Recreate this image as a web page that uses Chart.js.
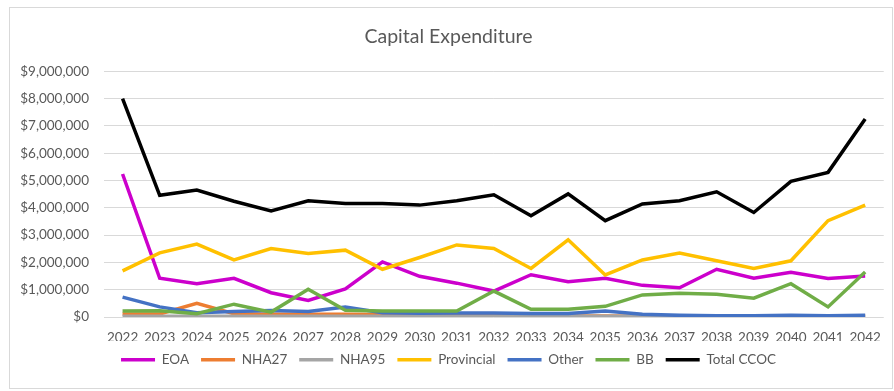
<!DOCTYPE html>
<html>
<head>
<meta charset="utf-8">
<script src="https://cdn.jsdelivr.net/npm/chart.js@4.4.1/dist/chart.umd.min.js"></script>
<style>
  html, body { margin: 0; padding: 0; background: #fff; }
  #wrap { position: relative; width: 894px; height: 391px; }
  #frame { position: absolute; left: 9px; top: 7px; width: 884px; height: 382px; border: 1px solid #d9d9d9; box-sizing: border-box; }
  #myChart { position: absolute; left: 0; top: 0; }
</style>
</head>
<body>
<div id="wrap">
  <div id="frame"></div>
  <canvas id="myChart" width="894" height="391"></canvas>
</div>
<script>
var years = ["2022", "2023", "2024", "2025", "2026", "2027", "2028", "2029", "2030", "2031",
  "2032", "2033", "2034", "2035", "2036", "2037", "2038", "2039", "2040", "2041", "2042"];

var eoa = [5240000, 1420000, 1220000, 1420000, 890000, 610000, 1030000, 2020000, 1490000, 1240000,
  950000, 1550000, 1290000, 1420000, 1160000, 1070000, 1750000, 1420000, 1640000, 1410000, 1500000];
var nha27 = [110000, 110000, 500000, 120000, 100000, 100000, 100000, 90000, 70000, 60000,
  50000, 40000, 40000, 40000, 30000, 30000, 30000, 30000, 30000, 30000, 30000];
var nha95 = [30000, 30000, 30000, 30000, 30000, 30000, 30000, 30000, 30000, 30000,
  30000, 30000, 30000, 30000, 30000, 30000, 30000, 30000, 30000, 30000, 30000];
var provincial = [1690000, 2350000, 2670000, 2090000, 2510000, 2330000, 2450000, 1750000, 2180000, 2640000,
  2510000, 1780000, 2830000, 1540000, 2090000, 2340000, 2060000, 1780000, 2060000, 3530000, 4100000];
var other = [730000, 370000, 160000, 200000, 240000, 200000, 370000, 160000, 140000, 150000,
  150000, 130000, 130000, 220000, 100000, 60000, 50000, 50000, 60000, 50000, 60000];
var bb = [220000, 230000, 120000, 470000, 180000, 1020000, 250000, 220000, 220000, 220000,
  950000, 280000, 280000, 390000, 810000, 870000, 830000, 690000, 1220000, 370000, 1650000];
var totalCcoc = [8000000, 4460000, 4650000, 4240000, 3890000, 4260000, 4160000, 4160000, 4100000, 4260000,
  4480000, 3710000, 4510000, 3530000, 4140000, 4260000, 4590000, 3830000, 4970000, 5300000, 7260000];

var seriesNames = ["EOA", "NHA27", "NHA95", "Provincial", "Other", "BB", "Total CCOC"];
var seriesData = [eoa, nha27, nha95, provincial, other, bb, totalCcoc];
var seriesColors = ["#CC00CC", "#ED7D31", "#A5A5A5", "#FFC000", "#4472C4", "#70AD47", "#000000"];

var textColor = "#595959";
var fontFamily = "Lato, 'Liberation Sans', sans-serif";

// later series sit on top, like the spreadsheet draws them
var datasets = seriesNames.map(function (name, i) {
  return {
    label: name,
    data: seriesData[i],
    borderColor: seriesColors[i],
    backgroundColor: seriesColors[i],
    borderWidth: 3.5,
    pointRadius: 0,
    tension: 0,
    fill: false,
    order: seriesNames.length - i
  };
});

function money(v) {
  return "$" + Number(v).toLocaleString("en-US");
}

var ctx = document.getElementById('myChart').getContext('2d');
var chart = new Chart(ctx, {
  type: 'line',
  data: { labels: years, datasets: datasets },
  options: {
    responsive: false,
    animation: false,
    layout: { padding: { left: 10, right: 7, top: 15, bottom: 14.5 } },
    plugins: {
      tooltip: { enabled: false },
      title: {
        display: true,
        text: "Capital Expenditure",
        color: textColor,
        font: { family: fontFamily, size: 19.5, weight: 'normal' },
        padding: { top: 10, bottom: 23 }
      },
      legend: {
        position: 'bottom',
        labels: {
          color: textColor,
          font: { family: fontFamily, size: 13.5 },
          usePointStyle: true,
          pointStyle: 'line',
          pointStyleWidth: 34,
          boxHeight: 4,
          padding: 12,
          sort: function (a, b) { return a.datasetIndex - b.datasetIndex; }
        }
      }
    },
    scales: {
      x: {
        offset: true,
        // year labels hang into the legend's empty top padding
        afterFit: function (scale) { scale.height = 24; },
        grid: { display: false, drawTicks: false },
        border: { display: false },
        ticks: {
          color: textColor,
          font: { family: fontFamily, size: 13.5 },
          maxRotation: 0,
          autoSkip: false,
          padding: 13
        }
      },
      y: {
        min: 0,
        max: 9000000,
        afterFit: function (scale) { scale.width = 94; },
        grid: { color: "#d9d9d9", lineWidth: 1, drawTicks: false },
        border: { display: false },
        ticks: {
          stepSize: 1000000,
          color: textColor,
          font: { family: fontFamily, size: 13.5 },
          padding: 15,
          callback: money
        }
      }
    }
  }
});
</script>
</body>
</html>
